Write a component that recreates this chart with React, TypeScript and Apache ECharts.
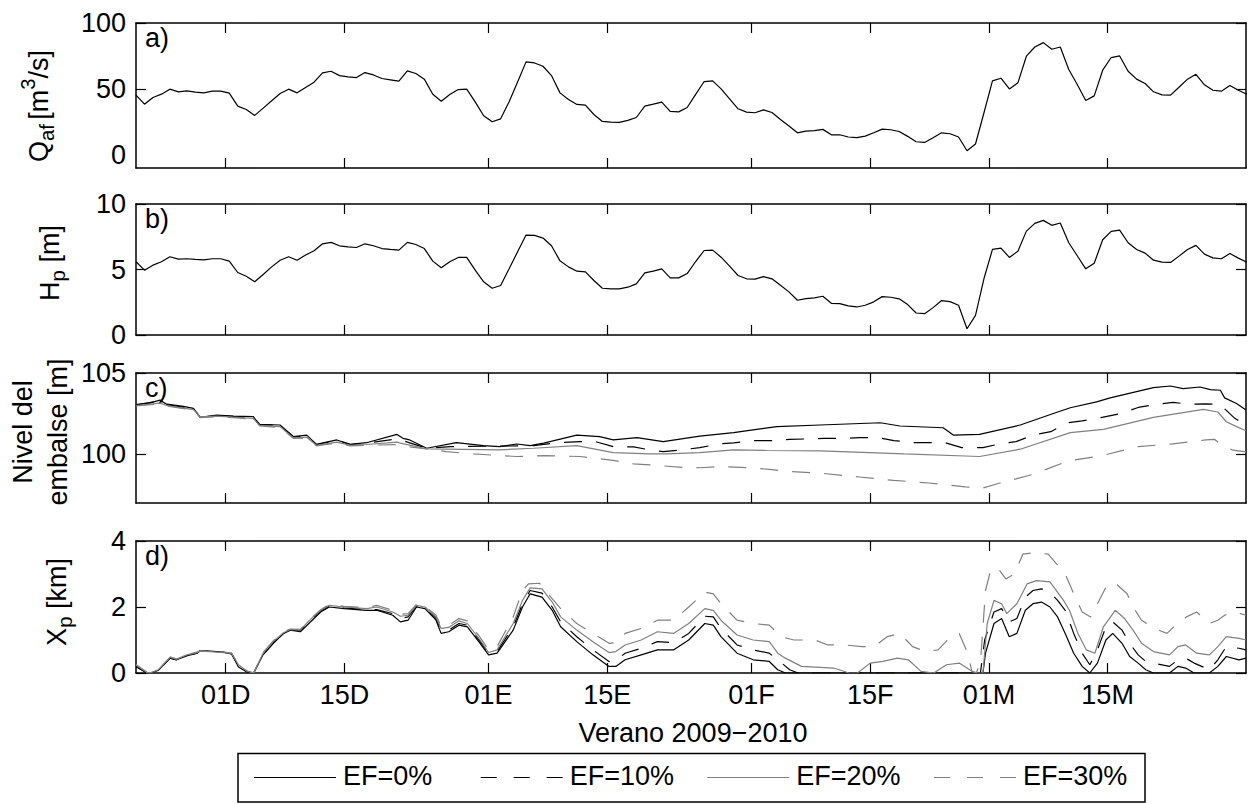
import React, { useEffect, useRef } from "react";
import * as echarts from "echarts";

// ---------------- shared x axis: days relative to 01 Dec 2009 ----------------
const X_MIN = -10.58;
const X_MAX = 120.32;
const tickDays = [0, 14, 31, 45, 62, 76, 90, 104];
const tickLabels = ["01D", "15D", "01E", "15E", "01F", "15F", "01M", "15M"];
const firstSampleDay = -10.58; // daily samples of panels a) and b)

// ---------------- a) Q_af [m3/s], daily ----------------
const qaf = [
  45.3, 38.4, 43.5, 46.0, 49.8, 47.8, 48.5, 47.5, 47.0, 48.3,
  48.3, 46.8, 36.9, 34.4, 29.9, 35.4, 41.0, 46.5, 49.8, 47.0,
  51.1, 55.1, 62.2, 63.4, 60.1, 59.1, 58.6, 62.4, 60.6, 57.9,
  56.9, 55.9, 63.7, 61.7, 57.4, 46.0, 40.7, 45.8, 49.5, 49.8,
  40.2, 29.6, 25.1, 27.3, 40.2, 55.3, 70.5, 69.7, 67.2, 60.1,
  47.0, 42.0, 38.2, 37.7, 30.6, 25.3, 24.8, 24.6, 26.1, 28.3,
  36.9, 38.4, 40.0, 32.9, 32.6, 35.9, 45.8, 55.6, 56.1, 50.0,
  42.5, 34.9, 32.4, 31.9, 34.1, 32.1, 26.8, 21.8, 16.7, 18.0,
  18.3, 19.3, 15.2, 15.2, 13.5, 13.0, 14.2, 16.7, 19.5, 19.0,
  17.7, 14.0, 9.9, 9.4, 13.0, 16.7, 16.0, 13.5, 3.1, 8.2,
  31.9, 56.1, 58.1, 50.0, 54.6, 74.8, 81.8, 85.1, 80.1, 81.8,
  64.7, 53.3, 41.2, 44.7, 64.2, 73.8, 75.0, 63.4, 57.4, 54.1,
  47.8, 45.5, 45.3, 51.3, 57.4, 61.1, 53.1, 49.0, 48.3, 52.6,
  49.0, 46.0,
];

// ---------------- b) H_p [m], daily ----------------
const hp = [
  5.59, 4.95, 5.33, 5.59, 5.97, 5.79, 5.82, 5.77, 5.74, 5.82,
  5.82, 5.64, 4.77, 4.49, 4.06, 4.62, 5.2, 5.71, 5.97, 5.71,
  6.1, 6.43, 6.96, 7.07, 6.81, 6.73, 6.68, 6.96, 6.81, 6.6,
  6.53, 6.48, 7.07, 6.91, 6.6, 5.64, 5.13, 5.59, 5.92, 5.92,
  4.95, 4.06, 3.57, 3.78, 5.05, 6.35, 7.63, 7.6, 7.4, 6.81,
  5.66, 5.2, 4.87, 4.82, 4.16, 3.57, 3.52, 3.52, 3.65, 3.9,
  4.74, 4.87, 5.05, 4.36, 4.36, 4.69, 5.61, 6.45, 6.48, 5.94,
  5.26, 4.54, 4.29, 4.26, 4.46, 4.29, 3.8, 3.29, 2.65, 2.78,
  2.83, 2.96, 2.42, 2.4, 2.22, 2.14, 2.27, 2.53, 2.93, 2.88,
  2.76, 2.32, 1.68, 1.63, 2.09, 2.63, 2.55, 2.27, 0.48, 1.5,
  4.31, 6.53, 6.63, 5.92, 6.4, 7.93, 8.52, 8.75, 8.37, 8.55,
  7.04, 6.05, 5.05, 5.48, 7.27, 7.91, 8.01, 7.04, 6.53, 6.25,
  5.71, 5.56, 5.54, 6.02, 6.53, 6.84, 6.17, 5.89, 5.82, 6.22,
  5.87, 5.55,
];

// ---------------- c) Nivel del embalse [m]: [day, level] ----------------
const nivelEF0: [number, number][] = [
  [-10.58, 103.06], [-9.0, 103.15], [-7.75, 103.33], [-6.96, 103.08], [-5.0, 102.95],
  [-3.8, 102.82], [-3.0, 102.27], [-1.06, 102.41], [0.9, 102.35], [3.25, 102.31],
  [4.0, 101.84], [6.4, 101.8], [8.0, 101.08], [9.55, 101.18], [10.7, 100.61],
  [13.1, 100.88], [14.7, 100.61], [16.6, 100.71], [20.2, 101.22], [20.9, 100.98],
  [21.7, 100.88], [23.7, 100.37], [27.2, 100.71], [30.4, 100.53], [32.3, 100.47],
  [34.3, 100.63], [35.9, 100.53], [37.5, 100.68], [41.4, 101.18], [44.1, 101.08],
  [45.7, 100.88], [48.5, 101.02], [51.6, 100.78], [55.9, 101.12], [59.9, 101.33],
  [62.6, 101.53], [65.0, 101.7], [70.1, 101.8], [77.2, 101.94], [79.5, 101.74],
  [84.6, 101.63], [85.8, 101.18], [88.9, 101.22], [93.7, 101.8], [97.6, 102.51],
  [99.6, 102.86], [102.7, 103.22], [104.3, 103.47], [109.4, 104.1], [111.4, 104.2],
  [112.9, 104.04], [114.9, 104.14], [116.1, 103.98], [117.3, 103.94], [117.8, 103.47],
  [119.2, 103.12], [120.32, 102.72],
];
const nivelEF10: [number, number][] = [
  [-10.58, 103.04], [-7.75, 103.28], [-6.96, 103.05], [-3.8, 102.8], [-3.0, 102.27],
  [-1.06, 102.38], [0.9, 102.33], [3.25, 102.28], [4.0, 101.82], [6.4, 101.77],
  [8.0, 101.06], [9.55, 101.14], [10.7, 100.6], [13.1, 100.84], [14.7, 100.6],
  [16.6, 100.68], [20.2, 100.95], [21.7, 100.7], [23.7, 100.37], [26.5, 100.47],
  [32.3, 100.5], [36.3, 100.53], [39.4, 100.72], [41.8, 100.78], [43.6, 100.78],
  [45.7, 100.47], [48.1, 100.45], [50.0, 100.27], [51.6, 100.16], [53.8, 100.27],
  [55.9, 100.41], [58.3, 100.64], [59.9, 100.7], [62.4, 100.84], [64.4, 100.84],
  [66.5, 100.92], [68.5, 100.94], [70.5, 100.98], [72.8, 100.98], [74.7, 101.02],
  [76.9, 101.02], [78.8, 100.84], [81.1, 100.72], [83.0, 100.72], [85.0, 100.68],
  [86.8, 100.41], [89.3, 100.41], [91.3, 100.64], [93.2, 100.78], [95.2, 101.18],
  [97.3, 101.39], [99.3, 101.94], [101.0, 102.05], [103.2, 102.25], [105.6, 102.51],
  [107.6, 102.88], [109.7, 103.06], [111.7, 103.19], [113.6, 103.08], [115.6, 103.1],
  [117.2, 103.08], [118.0, 102.7], [119.0, 102.21], [120.32, 101.8],
];
const nivelEF20: [number, number][] = [
  [-10.58, 103.0], [-7.75, 103.15], [-6.96, 103.0], [-3.8, 102.75], [-3.0, 102.3],
  [-1.06, 102.35], [0.9, 102.28], [3.25, 102.2], [4.0, 101.78], [6.4, 101.7],
  [8.0, 101.0], [9.55, 101.05], [10.7, 100.55], [13.1, 100.75], [14.7, 100.55],
  [16.6, 100.6], [20.2, 100.75], [20.6, 100.68], [23.7, 100.33], [32.3, 100.27],
  [36.3, 100.37], [41.4, 100.53], [45.7, 100.1], [50.0, 100.02], [52.0, 100.02],
  [55.9, 100.1], [59.9, 100.27], [63.8, 100.23], [70.1, 100.21], [80.0, 100.02],
  [88.9, 99.86], [93.7, 100.31], [99.6, 101.33], [103.5, 101.53], [109.4, 102.27],
  [115.3, 102.76], [117.0, 102.6], [118.0, 102.0], [119.2, 101.7], [120.32, 101.45],
];
const nivelEF30: [number, number][] = [
  [-10.58, 102.98], [-7.75, 103.1], [-6.96, 102.97], [-3.8, 102.72], [-3.0, 102.25],
  [-1.06, 102.3], [0.9, 102.25], [3.25, 102.15], [4.0, 101.75], [6.4, 101.65],
  [8.0, 100.97], [9.55, 101.0], [10.7, 100.52], [13.1, 100.7], [14.7, 100.52],
  [16.6, 100.55], [20.2, 100.6], [21.5, 100.47], [23.7, 100.33], [26.0, 100.16],
  [29.2, 100.02], [34.3, 99.86], [37.5, 99.92], [41.8, 99.86], [45.7, 99.62],
  [48.1, 99.41], [50.0, 99.35], [53.8, 99.19], [56.0, 99.17], [58.3, 99.25],
  [62.4, 99.15], [64.4, 99.05], [66.5, 98.94], [70.1, 98.84], [74.7, 98.6],
  [78.8, 98.39], [83.0, 98.23], [87.2, 97.99], [89.3, 97.92], [91.3, 98.23],
  [95.2, 98.76], [99.3, 99.58], [103.2, 99.9], [107.6, 100.47], [111.7, 100.64],
  [115.6, 100.88], [116.6, 100.92], [117.6, 100.51], [118.8, 100.25], [120.32, 100.15],
];

// ---------------- d) X_p [km]: [day, km] ----------------
const xpEF0: [number, number][] = [
  [-10.58, 0.2], [-9.3, 0], [-8.9, 0], [-7.95, 0.08], [-6.55, 0.45], [-5.8, 0.4], [-4.6, 0.52],
  [-3.4, 0.6], [-3.0, 0.68], [-1.85, 0.66], [-0.3, 0.63], [0.7, 0.58], [1.5, 0.18], [2.5, 0.03],
  [3.3, 0], [4.4, 0.55], [5.6, 0.9], [6.8, 1.19], [7.6, 1.3], [8.8, 1.25], [9.8, 1.5],
  [11.2, 1.85], [12.2, 2.0], [14.0, 1.95], [16.6, 1.9], [17.8, 1.9], [19.7, 1.75], [20.6, 1.55],
  [21.5, 1.6], [22.5, 2.0], [23.5, 1.95], [24.8, 1.6], [25.4, 1.2], [26.3, 1.25], [27.5, 1.45],
  [28.5, 1.4], [30.0, 0.9], [31.0, 0.55], [32.0, 0.6], [33.9, 1.3], [35.0, 2.0], [35.9, 2.4],
  [37.3, 2.3], [38.5, 1.9], [39.5, 1.4], [41.4, 0.95], [43.3, 0.55], [45.2, 0.2], [46.0, 0.2],
  [47.1, 0.4], [49.0, 0.55], [50.9, 0.7], [52.8, 0.7], [54.6, 1.0], [56.5, 1.5], [57.5, 1.45],
  [58.4, 1.1], [60.3, 0.6], [62.2, 0.4], [64.1, 0.35], [65.1, 0.1], [66.0, 0], [89.3, 0],
  [89.6, 0.6], [90.6, 1.5], [91.5, 1.65], [92.4, 1.1], [93.3, 1.2], [94.3, 1.9], [95.2, 2.1],
  [96.2, 2.15], [97.2, 2.0], [98.1, 1.7], [99.0, 1.2], [100.0, 0.6], [101.0, 0.2], [101.9, 0],
  [102.8, 0.3], [103.8, 1.0], [104.6, 1.2], [105.7, 0.9], [106.6, 0.5], [107.6, 0.3],
  [108.5, 0.1], [109.4, 0], [111.3, 0], [112.3, 0.2], [113.2, 0.15], [114.2, 0], [116.0, 0],
  [117.0, 0.2], [118.0, 0.5], [119.5, 0.4], [120.32, 0.45],
];
const xpEF10: [number, number][] = [
  [-10.58, 0.2], [-9.3, 0], [-8.9, 0], [-7.95, 0.08], [-6.55, 0.45], [-5.8, 0.4], [-4.6, 0.52],
  [-3.4, 0.6], [-3.0, 0.68], [-1.85, 0.66], [-0.3, 0.63], [0.7, 0.58], [1.5, 0.2], [2.5, 0.05],
  [3.3, 0], [4.4, 0.55], [5.6, 0.9], [6.8, 1.2], [7.6, 1.3], [8.8, 1.28], [9.8, 1.55],
  [11.2, 1.88], [12.2, 2.02], [14.0, 1.97], [16.6, 1.92], [17.8, 1.92], [19.7, 1.8], [20.6, 1.65],
  [21.5, 1.7], [22.5, 2.02], [23.5, 1.98], [24.8, 1.65], [25.4, 1.28], [26.3, 1.3], [27.5, 1.5],
  [28.5, 1.45], [30.0, 0.95], [31.0, 0.6], [32.0, 0.65], [33.9, 1.4], [35.0, 2.1], [35.9, 2.5],
  [37.3, 2.42], [38.5, 2.0], [39.5, 1.55], [41.4, 1.1], [43.3, 0.7], [45.2, 0.35], [46.0, 0.38],
  [47.1, 0.6], [49.0, 0.75], [50.9, 0.95], [52.8, 0.92], [54.6, 1.2], [56.5, 1.72], [57.5, 1.7],
  [58.4, 1.35], [60.3, 0.85], [62.2, 0.7], [64.1, 0.6], [65.1, 0.4], [66.5, 0.1], [67.5, 0],
  [89.0, 0], [89.5, 1.0], [90.6, 1.85], [91.5, 1.95], [92.4, 1.55], [93.3, 1.65], [94.3, 2.3],
  [95.2, 2.5], [96.2, 2.55], [97.2, 2.45], [98.1, 2.2], [99.0, 1.9], [100.0, 1.2], [101.0, 0.6],
  [101.9, 0.25], [102.8, 0.7], [103.8, 1.4], [104.6, 1.55], [105.7, 1.3], [106.6, 0.9],
  [107.6, 0.55], [108.5, 0.35], [109.4, 0.3], [111.3, 0.2], [112.3, 0.4], [113.2, 0.45],
  [114.2, 0.3], [116.0, 0.1], [117.0, 0.4], [118.0, 0.8], [119.5, 0.75], [120.32, 0.7],
];
const xpEF20: [number, number][] = [
  [-10.58, 0.25], [-9.3, 0.02], [-8.9, 0], [-7.95, 0.1], [-6.55, 0.48], [-5.8, 0.42], [-4.6, 0.55],
  [-3.4, 0.62], [-3.0, 0.66], [-1.85, 0.65], [-0.3, 0.62], [0.7, 0.6], [1.5, 0.25], [2.5, 0.06],
  [3.3, 0], [4.4, 0.6], [5.6, 0.95], [6.8, 1.22], [7.6, 1.32], [8.8, 1.3], [9.8, 1.58],
  [11.2, 1.9], [12.2, 2.05], [14.0, 2.0], [16.6, 1.95], [17.8, 2.0], [19.7, 1.85], [20.6, 1.72],
  [21.5, 1.75], [22.5, 2.05], [23.5, 2.0], [24.8, 1.7], [25.4, 1.35], [26.3, 1.38], [27.5, 1.58],
  [28.5, 1.5], [30.0, 1.0], [31.0, 0.62], [32.0, 0.7], [33.9, 1.5], [35.0, 2.2], [35.9, 2.58],
  [37.3, 2.55], [38.5, 2.15], [39.5, 1.7], [41.4, 1.3], [43.3, 0.95], [45.2, 0.62], [46.0, 0.65],
  [47.1, 0.85], [49.0, 1.0], [50.9, 1.25], [52.8, 1.2], [54.6, 1.5], [56.5, 1.95], [57.5, 1.9],
  [58.4, 1.6], [60.3, 1.15], [62.2, 1.0], [64.1, 0.95], [65.1, 0.6], [66.0, 0.45], [67.9, 0.2],
  [71.7, 0.15], [73.5, 0], [74.5, 0], [76.0, 0.3], [77.5, 0.35], [79.2, 0.45], [80.5, 0.4],
  [82.0, 0.05], [83.5, 0], [85.0, 0.25], [86.5, 0.3], [88.0, 0.05], [88.7, 0], [89.3, 0],
  [89.8, 1.5], [90.6, 2.2], [91.5, 2.1], [92.1, 1.8], [93.3, 2.1], [94.5, 2.7], [95.6, 2.8],
  [97.2, 2.76], [98.8, 2.2], [99.5, 1.9], [100.5, 1.2], [101.5, 0.7], [102.5, 0.6], [103.5, 1.4],
  [104.9, 1.9], [106.0, 1.65], [107.0, 1.3], [108.0, 0.9], [109.4, 0.65], [111.3, 0.55],
  [112.3, 0.8], [113.2, 0.85], [114.5, 0.6], [116.0, 0.55], [117.0, 0.8], [118.0, 1.1],
  [119.5, 1.05], [120.32, 1.0],
];
const xpEF30: [number, number][] = [
  [-10.58, 0.25], [-9.3, 0.02], [-8.9, 0], [-7.95, 0.1], [-6.55, 0.48], [-5.8, 0.42], [-4.6, 0.56],
  [-3.4, 0.63], [-3.0, 0.67], [-1.85, 0.66], [-0.3, 0.63], [0.7, 0.6], [1.5, 0.25], [2.5, 0.06],
  [3.3, 0], [4.4, 0.62], [5.6, 0.97], [6.8, 1.25], [7.6, 1.33], [8.8, 1.32], [9.8, 1.6],
  [11.2, 1.92], [12.2, 2.08], [14.0, 2.02], [16.6, 1.98], [17.8, 2.05], [19.7, 1.9], [20.6, 1.78],
  [21.5, 1.8], [22.5, 2.08], [23.5, 2.03], [24.8, 1.75], [25.4, 1.42], [26.3, 1.45], [27.5, 1.65],
  [28.5, 1.58], [30.0, 1.08], [31.0, 0.7], [32.0, 0.8], [33.9, 1.7], [35.0, 2.5], [35.7, 2.7],
  [37.0, 2.72], [38.0, 2.4], [39.5, 1.95], [41.4, 1.5], [43.3, 1.2], [45.2, 0.9], [46.0, 0.92],
  [47.1, 1.2], [49.0, 1.35], [50.9, 1.6], [52.8, 1.6], [54.6, 2.0], [56.5, 2.45], [57.5, 2.4],
  [58.4, 2.1], [60.3, 1.6], [62.2, 1.5], [64.1, 1.45], [65.5, 1.1], [67.0, 1.0], [69.5, 1.0],
  [71.0, 0.85], [73.0, 0.85], [75.0, 0.8], [76.5, 0.8], [78.0, 1.1], [79.5, 1.2], [81.0, 0.8],
  [82.5, 0.65], [84.0, 0.7], [85.5, 1.1], [86.5, 1.2], [87.5, 0.6], [88.0, 0.05], [88.5, 0],
  [89.0, 0.3], [89.6, 2.5], [90.2, 3.1], [91.0, 3.2], [92.0, 2.85], [93.0, 3.0], [94.0, 3.6],
  [95.5, 3.65], [97.0, 3.6], [98.0, 3.3], [99.0, 3.0], [100.0, 2.4], [101.0, 1.85], [102.0, 1.7],
  [103.0, 2.2], [104.0, 2.7], [105.0, 2.7], [106.3, 2.4], [107.0, 2.0], [108.0, 1.6],
  [109.5, 1.35], [111.0, 1.2], [112.0, 1.45], [113.3, 1.7], [114.5, 1.85], [116.0, 1.5],
  [117.0, 1.6], [117.8, 1.75], [119.0, 1.85], [120.32, 1.75],
];

const scenarioNames = ["EF=0%", "EF=10%", "EF=20%", "EF=30%"];

// ---------------- styling ----------------
const FONT = '"Liberation Sans", Arial, Helvetica, sans-serif';
const FS = 27;
const GRAY = "#808080";
const DASH = [18, 14];
const scenarioStyles = [
  { color: "#000", type: "solid" as any },
  { color: "#000", type: DASH as any },
  { color: GRAY, type: "solid" as any },
  { color: GRAY, type: DASH as any },
];

const panels = [
  { top: 23, height: 145, yMin: -10, yMax: 100, yLabels: [0, 50, 100], yTicks: [50, 100], tag: "a)" },
  { top: 204, height: 131, yMin: 0, yMax: 10, yLabels: [0, 5, 10], yTicks: [0, 5, 10], tag: "b)" },
  { top: 373, height: 130, yMin: 97, yMax: 105, yLabels: [100, 105], yTicks: [100, 105], tag: "c)" },
  { top: 541, height: 132, yMin: 0, yMax: 4, yLabels: [0, 2, 4], yTicks: [0, 2, 4], tag: "d)" },
];
const PLOT_LEFT = 136;
const PLOT_WIDTH = 1110;

function measure(text: string, size: number): number {
  const ctx = document.createElement("canvas").getContext("2d")!;
  ctx.font = `${size}px ${FONT}`;
  return ctx.measureText(text).width;
}

type Part = { t: string; shift?: number; scale?: number };
function verticalTitle(cx: number, cy: number, parts: Part[], size: number) {
  const items = parts.map((p) => {
    const s = size * (p.scale ?? 1);
    return { ...p, s, w: measure(p.t, s) };
  });
  const W = items.reduce((a, b) => a + b.w, 0);
  let x = -W / 2;
  const children = items.map((it) => {
    const el = {
      type: "text",
      x,
      y: (it.shift ?? 0) * size,
      style: { text: it.t, fontSize: it.s, fontFamily: FONT, fill: "#000", align: "left", verticalAlign: "middle" },
    };
    x += it.w;
    return el;
  });
  return { type: "group", x: cx, y: cy, rotation: Math.PI / 2, silent: true, children };
}

function buildOption() {
  const axisLine = { show: true, onZero: false, lineStyle: { color: "#000", width: 1.5 } };
  const tickStyle = { color: "#000", width: 1.2 };
  const labelStyle = { color: "#000", fontSize: FS, fontFamily: FONT };
  const fmtDay = (v: number) => {
    const i = tickDays.indexOf(Math.round(v));
    return i >= 0 ? tickLabels[i] : "";
  };

  const grid: any[] = [];
  const xAxis: any[] = [];
  const yAxis: any[] = [];
  panels.forEach((p, i) => {
    grid.push({ left: PLOT_LEFT, width: PLOT_WIDTH, top: p.top, height: p.height, outerBoundsMode: "none", containLabel: false });
    const xc = { type: "value", gridIndex: i, min: X_MIN, max: X_MAX, splitLine: { show: false }, axisLine };
    xAxis.push({
      ...xc,
      position: "bottom",
      axisTick: { show: true, inside: true, length: 10, customValues: tickDays, lineStyle: tickStyle },
      axisLabel: { show: i === 3, customValues: tickDays, formatter: fmtDay, margin: 8, ...labelStyle },
    });
    xAxis.push({
      ...xc,
      position: "top",
      axisTick: { show: true, inside: true, length: 10, customValues: tickDays, lineStyle: tickStyle },
      axisLabel: { show: false },
    });
    const yc = { type: "value", gridIndex: i, min: p.yMin, max: p.yMax, splitLine: { show: false }, axisLine };
    yAxis.push({
      ...yc,
      position: "left",
      axisTick: { show: true, inside: true, length: 10, customValues: p.yTicks, lineStyle: tickStyle },
      axisLabel: { show: true, customValues: p.yLabels, margin: 10, ...labelStyle },
    });
    yAxis.push({
      ...yc,
      position: "right",
      axisTick: { show: true, inside: true, length: 10, customValues: p.yTicks, lineStyle: tickStyle },
      axisLabel: { show: false },
    });
  });

  const line = (panel: number, data: number[][], st: { color: string; type: any }, name: string) => ({
    type: "line",
    name,
    xAxisIndex: panel * 2,
    yAxisIndex: panel * 2,
    data,
    showSymbol: false,
    symbol: "none",
    silent: true,
    clip: true,
    lineStyle: { color: st.color, width: 1.2, type: st.type },
    emphasis: { disabled: true },
  });

  const series: any[] = [
    line(0, qaf.map((v, k) => [firstSampleDay + k, v]), scenarioStyles[0], "Qaf"),
    line(1, hp.map((v, k) => [firstSampleDay + k, v]), scenarioStyles[0], "Hp"),
  ];
  [nivelEF0, nivelEF10, nivelEF20, nivelEF30].forEach((d, j) => series.push(line(2, d, scenarioStyles[j], scenarioNames[j])));
  [xpEF0, xpEF10, xpEF20, xpEF30].forEach((d, j) => series.push(line(3, d, scenarioStyles[j], scenarioNames[j])));

  const graphic: any[] = [];
  panels.forEach((p) => {
    graphic.push({
      type: "text", x: 145, y: p.top + 15, silent: true,
      style: { text: p.tag, fontSize: FS, fontFamily: FONT, fill: "#000", align: "left", verticalAlign: "middle" },
    });
  });
  graphic.push(verticalTitle(39, 106, [{ t: "Q" }, { t: "af", shift: 0.3, scale: 0.75 }, { t: " ", scale: 0.6 }, { t: "[m" }, { t: "3", shift: -0.4, scale: 0.75 }, { t: "/s]" }], FS));
  graphic.push(verticalTitle(50, 263, [{ t: "H" }, { t: "p", shift: 0.3, scale: 0.75 }, { t: " [m]" }], FS));
  graphic.push(verticalTitle(23, 432, [{ t: "Nivel del" }], FS));
  graphic.push(verticalTitle(58, 432, [{ t: "embalse [m]" }], FS));
  graphic.push(verticalTitle(57, 602, [{ t: "X" }, { t: "p", shift: 0.3, scale: 0.75 }, { t: " [km]" }], FS));
  graphic.push({
    type: "text", x: 693, y: 733, silent: true,
    style: { text: "Verano 2009\u22122010", fontSize: FS, fontFamily: FONT, fill: "#000", align: "center", verticalAlign: "middle" },
  });

  // legend box
  graphic.push({
    type: "rect", silent: true, shape: { x: 238, y: 753.5, width: 907, height: 48.5 },
    style: { fill: "#fff", stroke: "#000", lineWidth: 1.5 },
  });
  const legendX = [254, 480.7, 707.3, 934];
  scenarioNames.forEach((name, j) => {
    const st = scenarioStyles[j];
    const x0 = legendX[j];
    graphic.push({
      type: "line", silent: true, shape: { x1: x0, y1: 777.5, x2: x0 + 82, y2: 777.5 },
      style: { stroke: st.color, lineWidth: 1.2, lineDash: st.type === "solid" ? null : [16, 17] },
    });
    graphic.push({
      type: "text", x: x0 + 89, y: 776, silent: true,
      style: { text: name, fontSize: FS, fontFamily: FONT, fill: "#000", align: "left", verticalAlign: "middle" },
    });
  });

  return {
    animation: false,
    backgroundColor: "#fff",
    grid,
    xAxis,
    yAxis,
    series,
    graphic,
  };
}

export default function App() {
  const ref = useRef<HTMLDivElement>(null);
  useEffect(() => {
    const chart = echarts.init(ref.current!, null, { renderer: "svg" });
    chart.setOption(buildOption() as any);
    return () => chart.dispose();
  }, []);
  return (
    <div
      ref={ref}
      style={{ position: "absolute", left: 0, top: 0, width: 1252, height: 804, background: "#fff" }}
    />
  );
}
